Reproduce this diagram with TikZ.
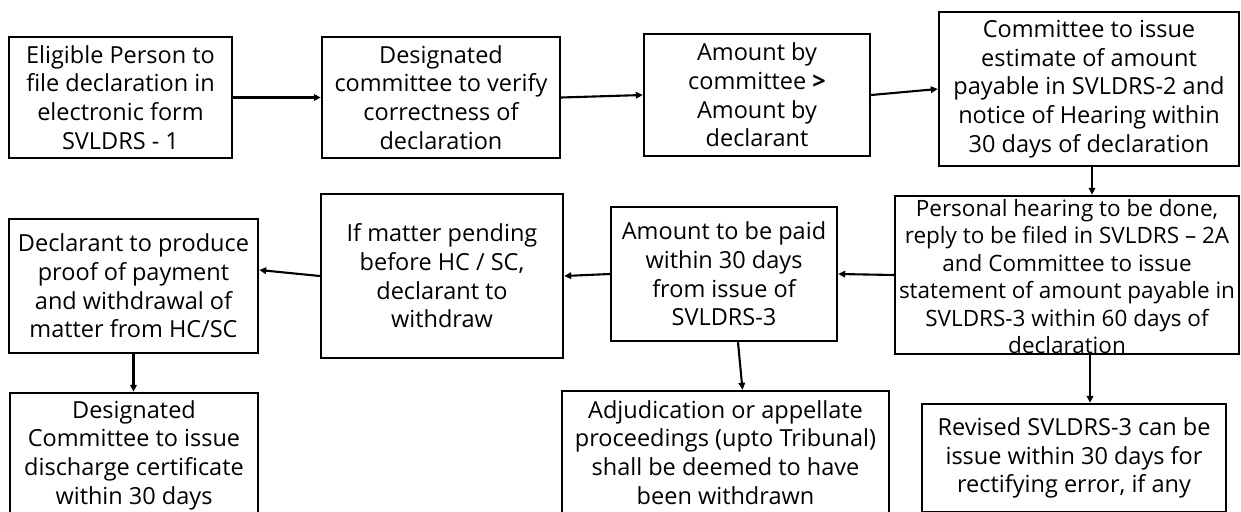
\documentclass[tikz,border=0pt]{standalone}
\usepackage{fontspec}
\setmainfont{Open Sans}
\usetikzlibrary{arrows.meta}
\tikzset{
  box/.style={draw=black, line width=2.4pt, rectangle, inner sep=0pt, fill=white},
  txt/.style={align=center, inner sep=0pt, text=black, font=\fontsize{23.5}{28.7}\selectfont},
  txtsmall/.style={align=center, inner sep=0pt, text=black, font=\fontsize{22.5}{27.4}\selectfont},
  conn/.style={line width=2.1pt, -{Triangle[length=7pt,width=6.5pt]}}
}
\begin{document}
\begin{tikzpicture}[x=1pt,y=-1pt]
\clip (0,0) rectangle (1241,511);
\fill[white] (0,0) rectangle (1241,511);
% top row
\node[box, minimum width=223pt, minimum height=121pt,
  label={[txt]center:{Eligible Person to\\file declaration in\\electronic form\\SVLDRS - 1}}] (b1) at (120.5,97.5) {};
\node[box, minimum width=238pt, minimum height=121pt,
  label={[txt]center:{Designated\\committee to verify\\correctness of\\declaration}}] (b2) at (441,97.5) {};
\node[box, minimum width=226pt, minimum height=122pt,
  label={[txt]center:{Amount by\\committee \textbf{>}\\Amount by\\declarant}}] (b3) at (757,95) {};
\node[box, minimum width=300pt, minimum height=154pt,
  label={[txt]center:{Committee to issue\\estimate of amount\\payable in SVLDRS-2 and\\notice of Hearing within\\30 days of declaration}}] (b4) at (1089,89) {};
% middle row
\node[box, minimum width=344pt, minimum height=158pt,
  label={[txtsmall,yshift=-1.5pt]center:{Personal hearing to be done,\\reply to be filed in SVLDRS – 2A\\and Committee to issue\\statement of amount payable in\\SVLDRS-3 within 60 days of\\declaration}}] (b5) at (1067,275) {};
\node[box, minimum width=226pt, minimum height=134pt,
  label={[txt]center:{Amount to be paid\\within 30 days\\from issue of\\SVLDRS-3}}] (b6) at (724,274) {};
\node[box, minimum width=242pt, minimum height=164pt,
  label={[txt]center:{If matter pending\\before HC / SC,\\declarant to\\withdraw}}] (b7) at (442,276) {};
\node[box, minimum width=249pt, minimum height=134pt,
  label={[txt]center:{Declarant to produce\\proof of payment\\and withdrawal of\\matter from HC/SC}}] (b8) at (133.5,286) {};
% bottom row
\node[box, minimum width=248pt, minimum height=124pt,
  label={[txt]center:{Designated\\Committee to issue\\discharge certificate\\within 30 days}}] (b9) at (134,455) {};
\node[box, minimum width=327pt, minimum height=123pt,
  label={[txt]center:{Adjudication or appellate\\proceedings (upto Tribunal)\\shall be deemed to have\\been withdrawn}}] (b10) at (725.5,452.5) {};
\node[box, minimum width=304pt, minimum height=108pt,
  label={[txt]center:{Revised SVLDRS-3 can be\\issue within 30 days for\\rectifying error, if any}}] (b11) at (1074,458) {};
% connectors
\draw[conn] (b1.east) -- (b2.west);
\draw[conn] (b2.east) -- (b3.west);
\draw[conn] (b3.east) -- (b4.west);
\draw[conn] ([xshift=3pt]b4.south) -- ([xshift=3pt]b4.south |- b5.north);
\draw[conn] (b5.west) -- (b6.east);
\draw[conn] (b6.west) -- (b7.east);
\draw[conn] (b7.west) -- ([yshift=16pt]b8.east);
\draw[conn] (b8.south) -- (b8.south |- b9.north);
\draw[conn] ([xshift=14pt]b6.south) -- ([xshift=17pt]b10.north);
\draw[conn] ([xshift=23pt]b5.south) -- ([xshift=23pt]b5.south |- b11.north);
\end{tikzpicture}
\end{document}
